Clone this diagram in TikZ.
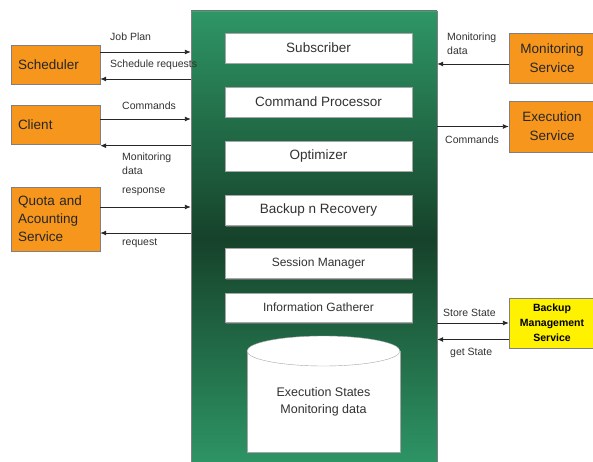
\documentclass[tikz,border=0pt]{standalone}
\usepackage{fontspec}
\setmainfont{Liberation Sans}
\usetikzlibrary{arrows,arrows.meta,positioning,shadows}
\definecolor{orng}{RGB}{246,150,28}
\definecolor{grnlite}{RGB}{46,150,102}
\definecolor{grndark}{RGB}{22,66,42}
\definecolor{txtgray}{RGB}{50,50,50}

\begin{document}
\begin{tikzpicture}[x=1pt,y=-1pt,
  svcbox/.style={rectangle,draw=gray,fill=orng,minimum width=89pt,minimum height=39pt,text width=75pt,align=left,text=black!85,font=\fontsize{13.5}{18}\selectfont},
  rsvcbox/.style={rectangle,draw=gray,fill=orng,minimum width=86pt,minimum height=51pt,align=center,text=black!85,font=\fontsize{13.5}{19}\selectfont},
  modbox/.style={rectangle,draw=gray!70,fill=white,minimum width=187pt,minimum height=30pt,text=txtgray,font=\fontsize{13.5}{15}\selectfont,drop shadow={shadow xshift=1pt,shadow yshift=-1.5pt,opacity=0.6}},
  lbl/.style={anchor=west,inner sep=0pt,align=left,text=txtgray,font=\fontsize{10.5}{14}\selectfont},
  arr/.style={-{Latex[length=6pt,width=5pt]},line width=0.9pt,draw=black!85}]
\useasboundingbox (0,0) rectangle (593,462);

% main block
\node at (314,239)[rectangle,minimum width=246pt,minimum height=456pt,draw=gray,top color=grnlite,bottom color=grnlite,middle color=grndark](core){};

\node at (318.5,48)[modbox](sub){Subscriber};
\node at (318.5,102)[modbox](cmd){Command Processor};
\node at (318.5,156)[modbox](opt){Optimizer};
\node at (318.5,210)[modbox](bkp){Backup n Recovery};
\node at (318.5,263)[modbox,font=\fontsize{12}{14}\selectfont](ses){Session Manager};
\node at (318.5,307.5)[modbox,minimum height=29pt,font=\fontsize{12}{14}\selectfont](info){Information Gatherer};

% data store
\draw[draw=gray!70,fill=white] (247,351) -- (247,452) -- (400,452) -- (400,351);
\draw[draw=gray!70,fill=white] (323.5,351) ellipse (76.5 and 15);
\node at (323.5,402)[align=center,text=txtgray,font=\fontsize{12.5}{17}\selectfont](store){Execution States\\Monitoring data};

% left side services
\node at (55.5,64.5)[svcbox](sched){Scheduler};
\node at (55.5,124.5)[svcbox](client){Client};
\node at (55.5,219)[svcbox,minimum height=64pt](quota){Quota and\\Acounting\\Service};

% right side services
\node at (552,58)[rsvcbox,minimum height=50pt](mon){Monitoring\\Service};
\node at (552,126.5)[rsvcbox](exec){Execution\\Service};
\node at (552,323)[rsvcbox,minimum height=50pt,fill=yellow,text=black,font=\fontsize{10.5}{15}\bfseries](bms){Backup\\Management\\Service};

% connectors
\draw[arr] ([yshift=12.5pt]sched.east) -- ([yshift=12.5pt]sched.east -| core.west);
\draw[arr] ([yshift=-14.5pt]sched.east -| core.west) -- ([yshift=-14.5pt]sched.east);
\draw[arr] ([yshift=5.5pt]client.east) -- ([yshift=5.5pt]client.east -| core.west);
\draw[arr] ([yshift=-1.5pt]client.south east -| core.west) -- ([yshift=-1.5pt]client.south east);
\draw[arr] ([yshift=12pt]quota.east) -- ([yshift=12pt]quota.east -| core.west);
\draw[arr] ([yshift=-14pt]quota.east -| core.west) -- ([yshift=-14pt]quota.east);
\draw[arr] ([yshift=-6pt]mon.west) -- ([yshift=-6pt]mon.west -| core.east);
\draw[arr] (exec.west -| core.east) -- (exec.west);
\draw[arr] (bms.west -| core.east) -- (bms.west);
\draw[arr] ([yshift=-16.5pt]bms.west) -- ([yshift=-16.5pt]bms.west -| core.east);

% connector labels
\node at (110,37)[lbl](l1){Job Plan};
\node at (110,65)[lbl](l2){Schedule requests};
\node at (122,106)[lbl](l3){Commands};
\node at (122,164)[lbl](l4){Monitoring\\data};
\node at (122,192)[lbl](l5){response};
\node at (122,243)[lbl](l6){request};
\node at (447,44)[lbl](l7){Monitoring\\ data};
\node at (445,140)[lbl](l8){Commands};
\node at (443,313)[lbl](l9){Store State};
\node at (450,353)[lbl](l10){get State};
\end{tikzpicture}
\end{document}
